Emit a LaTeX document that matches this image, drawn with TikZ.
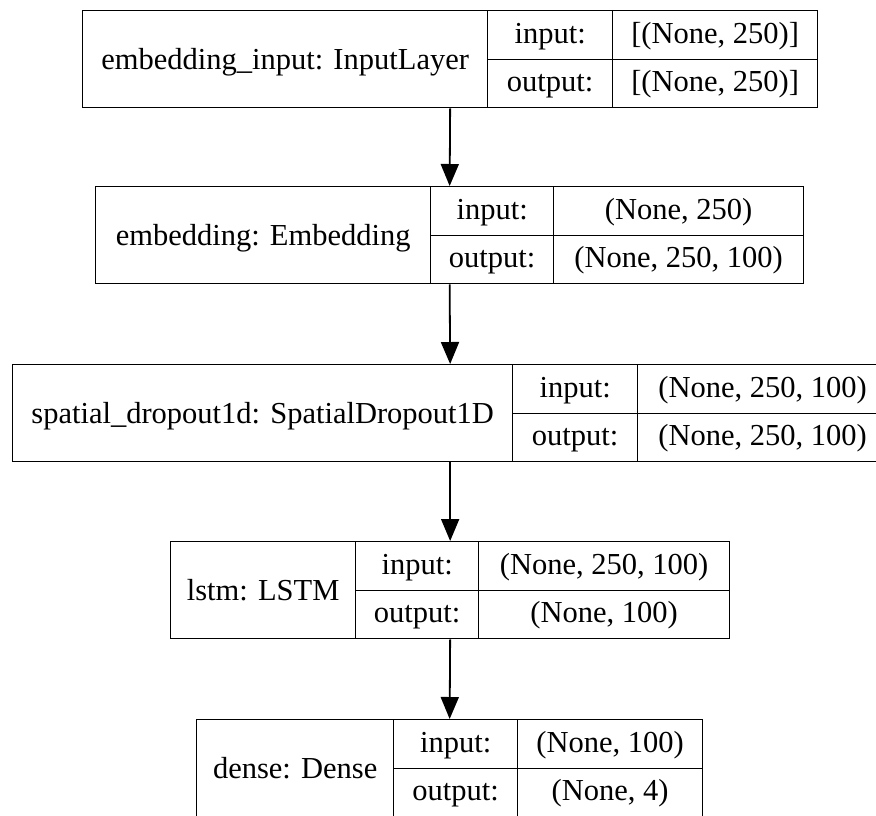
\documentclass[tikz,border=0pt]{standalone}
\usepackage{fontspec}
\setmainfont{Liberation Serif}
\usetikzlibrary{arrows.meta}
% one layer: name, left, split1, split2, right, top, label, input, output
\newcommand{\layerbox}[9]{%
	\node[frame,minimum width={#5-#2},anchor=north west] (#1) at (#2,#6) {};
	\node[cell,minimum width={#3-#2},minimum height=97,text height=20pt,anchor=north west] (#1-name) at (#2,#6) {#7};
	\node[cell,minimum width={#4-#3},anchor=north west] (#1-inkey) at (#3,#6) {input:};
	\node[cell,minimum width={#4-#3},anchor=north west] (#1-outkey) at (#3,#6+48.5) {output:};
	\node[cell,minimum width={#5-#4},anchor=north west] (#1-inval) at (#4,#6) {#8};
	\node[cell,minimum width={#5-#4},anchor=north west] (#1-outval) at (#4,#6+48.5) {#9};
}
\begin{document}
\begin{tikzpicture}[x=1pt,y=-1pt,font=\fontsize{30.5}{36}\selectfont,
		frame/.style={draw,line width=1.3pt,minimum height=97,inner sep=0pt},
		cell/.style={draw,line width=1.3pt,minimum height=48.5,inner sep=0pt,text height=17pt,text depth=0pt},
		arr/.style={-{Triangle[length=22pt,width=18pt]},line width=1.8pt}]
		\useasboundingbox (0,0) rectangle (876,815);
		\clip (0,0) rectangle (876,815);
		\layerbox{inputl}{82}{487}{612}{817}{10}{embedding\_input: InputLayer}{[(None, 250)]}{[(None, 250)]}
		\layerbox{embed}{95}{430}{553}{803}{186}{embedding: Embedding}{(None, 250)}{(None, 250, 100)}
		\layerbox{drop}{12}{512}{637}{887}{364}{spatial\_dropout1d: SpatialDropout1D}{(None, 250, 100)}{(None, 250, 100)}
		\layerbox{lstm}{170}{355}{478}{729}{541}{lstm: LSTM}{(None, 250, 100)}{(None, 100)}
		\layerbox{dense}{196}{393}{517}{702}{719}{dense: Dense}{(None, 100)}{(None, 4)}
		\draw[arr] (inputl.south) -- (embed.north);
		\draw[arr] (embed.south) -- (drop.north);
		\draw[arr] (drop.south) -- (lstm.north);
		\draw[arr] (lstm.south) -- (dense.north);
\end{tikzpicture}
\end{document}
